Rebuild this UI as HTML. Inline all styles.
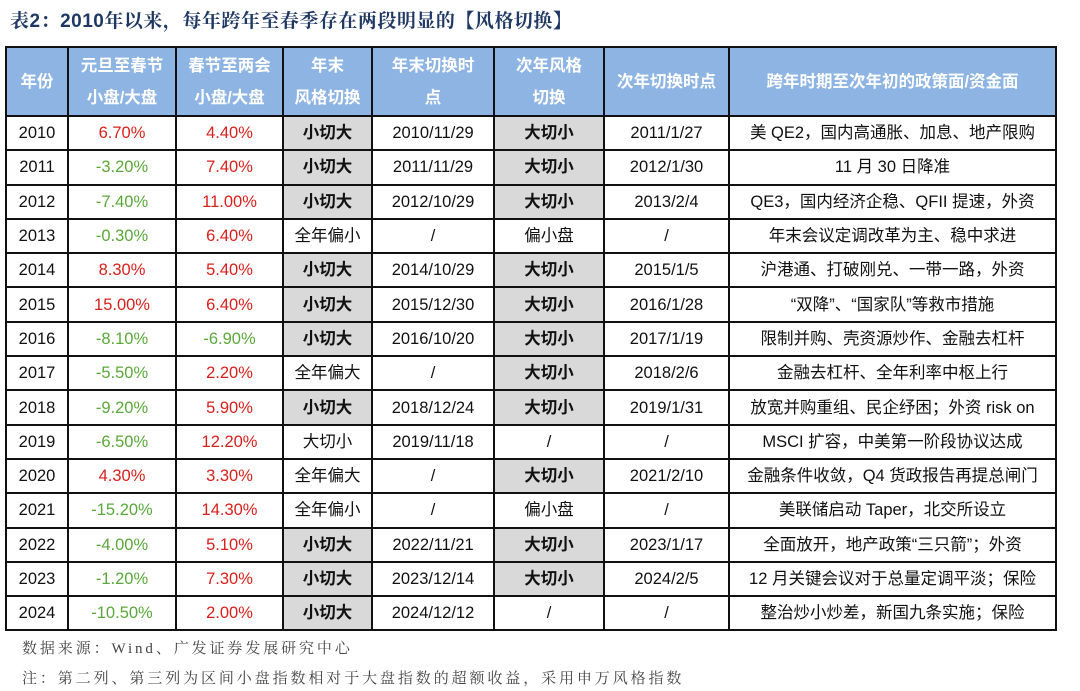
<!DOCTYPE html>
<html><head><meta charset="utf-8"><style>
body{margin:0;width:1080px;height:691px;background:#fff;overflow:hidden;font-family:"Liberation Sans","Noto Sans CJK SC",sans-serif;}
.title{position:absolute;left:10px;top:6px;font-size:19px;font-weight:bold;color:#1f3864;font-family:"Liberation Sans","Noto Serif CJK SC",serif;letter-spacing:0.5px}
table{position:absolute;left:5px;top:46px;border-collapse:collapse;table-layout:fixed;width:1050px}
tr{height:34.3px}
td{border:2px solid #111;text-align:center;font-size:16.5px;line-height:20px;padding:0;color:#111;white-space:nowrap;overflow:hidden}
tr.h{height:69px}
tr.h td{background:#8db4e2;color:#fff;font-weight:bold;line-height:32px;font-size:16.5px}
.r{color:#d9201c}.g{color:#5aa83a}
.s{background:#d9d9d9;font-weight:bold}
.f{position:absolute;left:22px;font-size:15px;color:#444;letter-spacing:2.9px;font-family:"Liberation Serif","Noto Serif CJK SC",serif}
</style></head><body>
<div class="title">表2：2010年以来，每年跨年至春季存在两段明显的【风格切换】</div>
<table>
<colgroup><col style="width:62px"><col style="width:108px"><col style="width:107px"><col style="width:89px"><col style="width:122px"><col style="width:110px"><col style="width:125px"><col style="width:327px"></colgroup>
<tr class="h"><td>年份</td><td>元旦至春节<br>小盘/大盘</td><td>春节至两会<br>小盘/大盘</td><td>年末<br>风格切换</td><td>年末切换时<br>点</td><td>次年风格<br>切换</td><td>次年切换时点</td><td>跨年时期至次年初的政策面/资金面</td></tr>
<tr><td>2010</td><td class="r">6.70%</td><td class="r">4.40%</td><td class="s">小切大</td><td>2010/11/29</td><td class="s">大切小</td><td>2011/1/27</td><td>美 QE2，国内高通胀、加息、地产限购</td></tr>
<tr><td>2011</td><td class="g">-3.20%</td><td class="r">7.40%</td><td class="s">小切大</td><td>2011/11/29</td><td class="s">大切小</td><td>2012/1/30</td><td>11 月 30 日降准</td></tr>
<tr><td>2012</td><td class="g">-7.40%</td><td class="r">11.00%</td><td class="s">小切大</td><td>2012/10/29</td><td class="s">大切小</td><td>2013/2/4</td><td>QE3，国内经济企稳、QFII 提速，外资</td></tr>
<tr><td>2013</td><td class="g">-0.30%</td><td class="r">6.40%</td><td>全年偏小</td><td>/</td><td>偏小盘</td><td>/</td><td>年末会议定调改革为主、稳中求进</td></tr>
<tr><td>2014</td><td class="r">8.30%</td><td class="r">5.40%</td><td class="s">小切大</td><td>2014/10/29</td><td class="s">大切小</td><td>2015/1/5</td><td>沪港通、打破刚兑、一带一路，外资</td></tr>
<tr><td>2015</td><td class="r">15.00%</td><td class="r">6.40%</td><td class="s">小切大</td><td>2015/12/30</td><td class="s">大切小</td><td>2016/1/28</td><td>“双降”、“国家队”等救市措施</td></tr>
<tr><td>2016</td><td class="g">-8.10%</td><td class="g">-6.90%</td><td class="s">小切大</td><td>2016/10/20</td><td class="s">大切小</td><td>2017/1/19</td><td>限制并购、壳资源炒作、金融去杠杆</td></tr>
<tr><td>2017</td><td class="g">-5.50%</td><td class="r">2.20%</td><td>全年偏大</td><td>/</td><td class="s">大切小</td><td>2018/2/6</td><td>金融去杠杆、全年利率中枢上行</td></tr>
<tr><td>2018</td><td class="g">-9.20%</td><td class="r">5.90%</td><td class="s">小切大</td><td>2018/12/24</td><td class="s">大切小</td><td>2019/1/31</td><td>放宽并购重组、民企纾困；外资 risk on</td></tr>
<tr><td>2019</td><td class="g">-6.50%</td><td class="r">12.20%</td><td>大切小</td><td>2019/11/18</td><td>/</td><td>/</td><td>MSCI 扩容，中美第一阶段协议达成</td></tr>
<tr><td>2020</td><td class="r">4.30%</td><td class="r">3.30%</td><td>全年偏大</td><td>/</td><td class="s">大切小</td><td>2021/2/10</td><td>金融条件收敛，Q4 货政报告再提总闸门</td></tr>
<tr><td>2021</td><td class="g">-15.20%</td><td class="r">14.30%</td><td>全年偏小</td><td>/</td><td>偏小盘</td><td>/</td><td>美联储启动 Taper，北交所设立</td></tr>
<tr><td>2022</td><td class="g">-4.00%</td><td class="r">5.10%</td><td class="s">小切大</td><td>2022/11/21</td><td class="s">大切小</td><td>2023/1/17</td><td>全面放开，地产政策“三只箭”；外资</td></tr>
<tr><td>2023</td><td class="g">-1.20%</td><td class="r">7.30%</td><td class="s">小切大</td><td>2023/12/14</td><td class="s">大切小</td><td>2024/2/5</td><td>12 月关键会议对于总量定调平淡；保险</td></tr>
<tr><td>2024</td><td class="g">-10.50%</td><td class="r">2.00%</td><td class="s">小切大</td><td>2024/12/12</td><td>/</td><td>/</td><td>整治炒小炒差，新国九条实施；保险</td></tr>
</table>
<div class="f" style="top:637px">数据来源：Wind、广发证券发展研究中心</div>
<div class="f" style="top:667px">注：第二列、第三列为区间小盘指数相对于大盘指数的超额收益，采用申万风格指数</div>
</body></html>
